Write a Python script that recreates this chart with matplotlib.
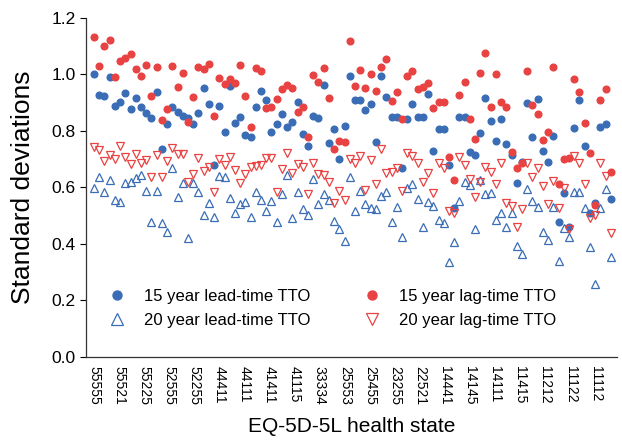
import numpy as np
import matplotlib
matplotlib.use("Agg")
import matplotlib.pyplot as plt

plt.rcParams['font.family'] = ['Liberation Sans', 'DejaVu Sans']

tick_states = ["55555", "55521", "55225", "52555", "52255", "44411", "44111",
               "41411", "41115", "33334", "25553", "25455", "23255", "22521",
               "14441", "14145", "14111", "11415", "11212", "11122", "11112"]

# standard deviations per health state (100 states)
lead15 = [1.000, 0.927, 0.923, 0.989, 0.889, 0.903, 0.935, 0.877, 0.917, 0.885,
          0.862, 0.846, 0.937, 0.735, 0.823, 0.883, 0.868, 0.852, 0.844, 0.823,
          0.864, 0.950, 0.895, 0.679, 0.888, 0.797, 0.960, 0.829, 0.850, 0.785,
          0.779, 0.883, 0.941, 0.908, 0.796, 0.823, 0.858, 0.812, 0.831, 0.902,
          0.787, 0.746, 0.852, 0.844, 0.962, 0.755, 0.807, 0.699, 0.817, 0.994,
          0.908, 0.908, 0.873, 0.895, 0.760, 0.994, 0.918, 0.850, 0.850, 0.667,
          0.842, 0.895, 0.849, 0.849, 0.931, 0.729, 0.805, 0.805, 0.679, 0.525,
          0.850, 0.850, 0.726, 0.714, 0.793, 0.917, 0.834, 0.765, 0.843, 0.752,
          0.714, 0.616, 0.690, 0.899, 0.778, 0.911, 0.728, 0.688, 0.783, 0.478,
          0.581, 0.458, 0.811, 0.909, 0.746, 0.510, 0.545, 0.814, 0.823, 0.557]
lag15 = [1.133, 1.030, 1.101, 1.121, 0.991, 1.048, 1.056, 1.072, 1.017, 0.994,
         1.033, 0.923, 1.024, 0.838, 0.876, 1.030, 0.956, 1.003, 0.832, 0.918,
         1.027, 1.017, 1.036, 0.852, 0.986, 0.965, 0.982, 0.968, 1.033, 0.923,
         0.814, 1.023, 1.013, 0.879, 0.883, 0.914, 0.948, 0.962, 0.952, 0.867,
         0.883, 0.779, 0.997, 0.974, 1.023, 0.917, 0.734, 0.764, 0.761, 1.118,
         0.958, 1.015, 0.950, 1.001, 0.941, 1.024, 1.054, 0.905, 0.938, 0.842,
         0.994, 1.011, 0.948, 0.954, 0.968, 0.882, 0.901, 0.901, 0.706, 0.626,
         0.927, 0.971, 0.840, 0.771, 1.006, 1.074, 0.883, 1.001, 0.903, 0.883,
         0.726, 0.669, 0.687, 1.013, 0.891, 0.859, 0.767, 0.797, 1.027, 0.611,
         0.699, 0.705, 0.982, 0.937, 0.829, 0.720, 0.537, 0.909, 0.947, 0.655]
lead20 = [0.596, 0.637, 0.582, 0.626, 0.555, 0.549, 0.616, 0.620, 0.632, 0.643,
          0.587, 0.478, 0.587, 0.475, 0.443, 0.667, 0.567, 0.616, 0.419, 0.614,
          0.582, 0.502, 0.543, 0.496, 0.640, 0.637, 0.563, 0.510, 0.541, 0.547,
          0.496, 0.584, 0.555, 0.516, 0.551, 0.478, 0.575, 0.643, 0.492, 0.584,
          0.523, 0.503, 0.628, 0.541, 0.576, 0.555, 0.482, 0.451, 0.411, 0.637,
          0.516, 0.588, 0.541, 0.525, 0.523, 0.569, 0.584, 0.478, 0.531, 0.425,
          0.596, 0.611, 0.557, 0.460, 0.549, 0.534, 0.484, 0.472, 0.337, 0.407,
          0.551, 0.620, 0.608, 0.451, 0.626, 0.576, 0.581, 0.484, 0.510, 0.460,
          0.508, 0.392, 0.362, 0.593, 0.551, 0.531, 0.443, 0.413, 0.529, 0.340,
          0.455, 0.423, 0.582, 0.582, 0.525, 0.387, 0.257, 0.525, 0.594, 0.354]
lag20 = [0.744, 0.732, 0.693, 0.714, 0.699, 0.746, 0.706, 0.682, 0.716, 0.687,
         0.696, 0.637, 0.714, 0.637, 0.694, 0.740, 0.716, 0.716, 0.620, 0.647,
         0.702, 0.657, 0.673, 0.582, 0.699, 0.679, 0.708, 0.661, 0.614, 0.646,
         0.673, 0.675, 0.679, 0.705, 0.705, 0.582, 0.665, 0.720, 0.649, 0.682,
         0.673, 0.576, 0.687, 0.647, 0.643, 0.617, 0.545, 0.588, 0.555, 0.699,
         0.685, 0.711, 0.590, 0.696, 0.611, 0.735, 0.652, 0.655, 0.667, 0.588,
         0.720, 0.711, 0.685, 0.620, 0.652, 0.578, 0.687, 0.669, 0.516, 0.510,
         0.708, 0.679, 0.628, 0.567, 0.620, 0.673, 0.653, 0.610, 0.687, 0.543,
         0.535, 0.460, 0.523, 0.687, 0.637, 0.667, 0.606, 0.539, 0.622, 0.525,
         0.596, 0.451, 0.711, 0.687, 0.610, 0.492, 0.502, 0.687, 0.641, 0.437]

blue = "#3a6db5"
red = "#e84342"
x = np.arange(len(lead15))

fig = plt.figure(figsize=(6.22, 4.44), dpi=100)
ax = fig.add_axes([0.1375, 0.1966, 0.8545, 0.7635])

h1, = ax.plot(x, lead15, ls='', marker='o', ms=4.8, color=blue, mec=blue)
h3, = ax.plot(x, lag15, ls='', marker='o', ms=4.8, color=red, mec=red)
h2, = ax.plot(x, lead20, ls='', marker='^', ms=6.0, mfc='none', mec=blue, mew=0.9)
h4, = ax.plot(x, lag20, ls='', marker='v', ms=6.0, mfc='none', mec=red, mew=0.9)

ax.set_xlim(-1.63, 100.2)
ax.set_ylim(0, 1.2)
ax.set_yticks([0.0, 0.2, 0.4, 0.6, 0.8, 1.0, 1.2])
ax.set_yticklabels(["0.0", "0.2", "0.4", "0.6", "0.8", "1.0", "1.2"])
ax.set_xticks(np.arange(len(tick_states)) * 4.805)
ax.set_xticklabels(tick_states, rotation=270, fontsize=10)
ax.tick_params(axis='x', length=0, pad=7)
ax.tick_params(axis='y', length=4, width=0.8, labelsize=12.5, pad=3)

for s in ['top', 'right']:
    ax.spines[s].set_visible(False)
for s in ['left', 'bottom']:
    ax.spines[s].set_linewidth(0.9)
    ax.spines[s].set_color('#333333')

ax.set_xlabel("EQ-5D-5L health state", fontsize=15, labelpad=8)
ax.set_ylabel("Standard deviations", fontsize=19, labelpad=12)

leg = ax.legend([h1, h2, h3, h4],
                ["15 year lead-time TTO", "20 year lead-time TTO",
                 "15 year lag-time TTO", "20 year lag-time TTO"],
                ncol=2, frameon=False, fontsize=12, markerscale=1.35,
                loc='lower left', bbox_to_anchor=(0.0, 0.04),
                handletextpad=0.6, columnspacing=2.7, labelspacing=0.55)

fig.savefig("out.png", dpi=100)
